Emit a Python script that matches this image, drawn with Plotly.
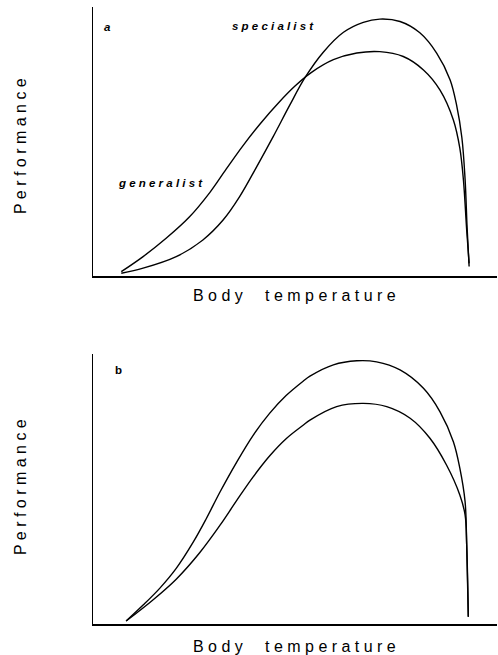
import plotly.graph_objects as go

# Panel a (arbitrary units 0-100)
gen_a_x = [7.0, 12.4, 18.1, 23.9, 28.9, 33.0, 37.0, 41.5, 46.0, 50.0, 54.0, 59.5, 65.3, 71.0,
           76.8, 81.8, 85.9, 89.2, 90.8, 91.7, 92.5, 93.1]
gen_a_y = [1.6, 7.2, 14.0, 22.0, 31.0, 39.8, 48.2, 56.8, 64.5, 70.6, 75.6, 80.4, 82.9, 83.4,
           81.6, 76.6, 69.1, 58.0, 47.5, 35.5, 17.0, 4.7]
spe_a_x = [7.0, 12.4, 20.6, 27.2, 32.2, 36.3, 40.4, 44.6, 48.7, 52.5, 57.0, 62.0, 66.9,
           71.0, 76.0, 80.9, 85.1, 88.4, 90.0, 91.3, 92.1, 92.6, 93.1]
spe_a_y = [1.0, 2.9, 7.2, 13.4, 20.8, 29.5, 40.3, 51.8, 63.5, 73.8, 83.2, 90.6, 94.3,
           95.5, 94.6, 90.4, 82.8, 72.9, 63.5, 51.5, 36.0, 18.0, 3.5]

# Panel b
up_b_x = [8.2, 12.4, 16.5, 20.6, 24.8, 28.0, 31.4, 35.5, 39.6, 43.7, 47.8, 52.0, 53.7, 59.5,
          65.3, 70.2, 76.0, 81.8, 85.9, 89.2, 90.8, 92.1, 92.5, 92.9]
up_b_y = [1.1, 7.0, 13.2, 20.6, 30.3, 38.9, 48.8, 59.8, 69.8, 78.0, 84.6, 89.9, 91.8, 96.0,
          97.5, 97.1, 94.1, 87.3, 78.6, 67.5, 57.7, 45.3, 29.3, 2.7]
lo_b_x = [8.2, 14.9, 20.6, 26.4, 31.4, 35.5, 39.6, 43.7, 47.8, 52.0, 53.7, 60.3, 66.9, 72.7,
          78.5, 83.4, 87.5, 90.8, 92.1, 92.5, 92.9]
lo_b_y = [1.1, 9.0, 16.6, 26.4, 36.5, 45.6, 54.4, 62.2, 68.6, 73.6, 75.5, 80.5, 81.7, 80.5,
          76.2, 68.8, 58.9, 47.8, 40.4, 29.3, 2.7]

W, H = 498, 655
FONT = "Liberation Sans, Arial, sans-serif"

fig = go.Figure()
line = dict(color="black", width=1.4, shape="spline", smoothing=1.0)
fig.add_trace(go.Scatter(x=gen_a_x, y=gen_a_y, mode="lines", line=line, xaxis="x", yaxis="y", showlegend=False))
fig.add_trace(go.Scatter(x=spe_a_x, y=spe_a_y, mode="lines", line=line, xaxis="x", yaxis="y", showlegend=False))
fig.add_trace(go.Scatter(x=up_b_x, y=up_b_y, mode="lines", line=line, xaxis="x2", yaxis="y2", showlegend=False))
fig.add_trace(go.Scatter(x=lo_b_x, y=lo_b_y, mode="lines", line=line, xaxis="x2", yaxis="y2", showlegend=False))

ax = dict(range=[0, 100], showline=True, linecolor="black", linewidth=1.5,
          showgrid=False, zeroline=False, showticklabels=False, ticks="", fixedrange=True)


def px2x(px):
    return px / W


def py2y(py):
    return 1 - py / H


fig.update_layout(
    width=W, height=H,
    margin=dict(l=0, r=0, t=0, b=0),
    paper_bgcolor="white", plot_bgcolor="white",
    xaxis=dict(ax, domain=[px2x(93), px2x(497)], anchor="y"),
    yaxis=dict(ax, domain=[py2y(276), py2y(7)], anchor="x"),
    xaxis2=dict(ax, domain=[px2x(93), px2x(497)], anchor="y2"),
    yaxis2=dict(ax, domain=[py2y(624), py2y(354)], anchor="x2"),
    font=dict(family=FONT, color="black"),
    hovermode=False,
)

lab = dict(size=11.5, family=FONT, color="black")
ann = [
    dict(x=3.7, y=92.6, xref="x", yref="y", text="<b><i>a</i></b>", showarrow=False, font=lab),
    dict(x=44.6, y=92.9, xref="x", yref="y", text="<b><i>s p e c i a l i s t</i></b>", showarrow=False, font=lab),
    dict(x=16.6, y=34.6, xref="x", yref="y", text="<b><i>g e n e r a l i s t</i></b>", showarrow=False, font=lab),
    dict(x=6.2, y=94.1, xref="x2", yref="y2", text="<b>b</b>", showarrow=False, font=lab),
]
big = dict(size=16, family=FONT, color="black")
for cy in (146, 487):
    ann.append(dict(x=px2x(20), y=py2y(cy), xref="paper", yref="paper", text="P e r f o r m a n c e",
                    textangle=-90, showarrow=False, font=big, xanchor="center", yanchor="middle"))
for cy in (295, 646):
    ann.append(dict(x=px2x(294), y=py2y(cy), xref="paper", yref="paper",
                    text="B o d y &nbsp;&nbsp;&nbsp; t e m p e r a t u r e", showarrow=False, font=big,
                    xanchor="center", yanchor="middle"))
fig.update_layout(annotations=ann)

fig.write_html("out.html", config={"displayModeBar": False, "staticPlot": True},
               post_script="document.body.style.margin='0';document.body.style.overflow='hidden';")
